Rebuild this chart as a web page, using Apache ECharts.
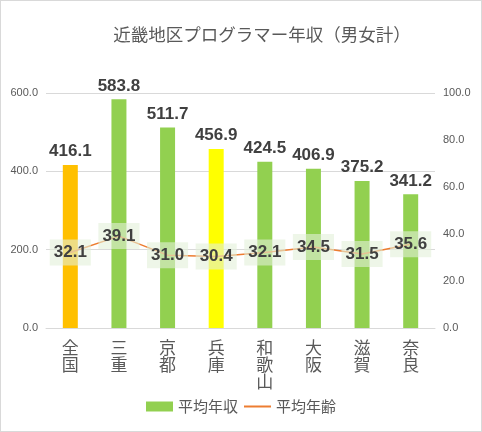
<!DOCTYPE html>
<html><head><meta charset="utf-8">
<script src="https://cdn.jsdelivr.net/npm/echarts@6/dist/echarts.min.js"></script>
<style>
html,body{margin:0;padding:0;background:#fff;}
#chart{width:482px;height:432px;position:relative;}
#frame{position:absolute;left:0;top:0;width:482px;height:432px;box-sizing:border-box;border:1px solid #d9d9d9;pointer-events:none;}
</style></head>
<body>
<div id="chart"></div><div id="frame"></div>
<script>
const categories = ['全国','三重','京都','兵庫','和歌山','大阪','滋賀','奈良'];
const salary = [416.1, 583.8, 511.7, 456.9, 424.5, 406.9, 375.2, 341.2];
const age = [32.1, 39.1, 31.0, 30.4, 32.1, 34.5, 31.5, 35.6];
const barColors = ['#FFC000','#92D050','#92D050','#FFFF00','#92D050','#92D050','#92D050','#92D050'];
const titleText = '近畿地区プログラマー年収（男女計）';
const seriesNames = ['平均年収','平均年齢'];

const chart = echarts.init(document.getElementById('chart'));
const font = '"Noto Sans CJK JP", "Noto Sans", sans-serif';
const numFont = '"Liberation Sans", Arial, sans-serif';
chart.setOption({
  animation: false,
  title: {
    text: titleText, left: 257, top: 21, textAlign: 'center',
    textStyle: {fontFamily: font, fontSize: 17.5, fontWeight: 'normal', color: '#595959'}
  },
  grid: {left: 46, right: 47, top: 93, bottom: 104},
  legend: {
    bottom: 13, left: 'center', itemWidth: 27, itemHeight: 10, itemGap: 6,
    textStyle: {fontFamily: font, fontSize: 15, color: '#595959'},
    data: [{name: seriesNames[0], icon: 'rect'}, {name: seriesNames[1], icon: 'path://M0,0L27,0L27,2L0,2Z'}]
  },
  xAxis: {
    type: 'category', data: categories.map(c => c.split('').join('\n')),
    axisLine: {lineStyle: {color: '#d9d9d9'}}, axisTick: {show: false},
    axisLabel: {fontFamily: font, fontSize: 17, lineHeight: 17, color: '#595959', margin: 11, interval: 0}
  },
  yAxis: [
    {type: 'value', min: 0, max: 600, interval: 200,
     axisLabel: {formatter: v => v.toFixed(1), fontFamily: numFont, fontSize: 11, color: '#595959', margin: 8},
     splitLine: {lineStyle: {color: '#d9d9d9'}}, axisLine: {show: false}, axisTick: {show: false}},
    {type: 'value', min: 0, max: 100, interval: 20,
     axisLabel: {formatter: v => v.toFixed(1), fontFamily: numFont, fontSize: 11, color: '#595959', margin: 8},
     splitLine: {show: false}, axisLine: {show: false}, axisTick: {show: false}}
  ],
  series: [
    {name: seriesNames[0], type: 'bar', yAxisIndex: 0, barWidth: 15,
     itemStyle: {color: '#92D050'},
     data: salary.map((v, i) => ({value: v, itemStyle: {color: barColors[i]}})),
     label: {show: true, position: 'top', distance: 5, formatter: p => p.value.toFixed(1),
       fontFamily: numFont, fontSize: 17, fontWeight: 'bold', color: '#404040'}},
    {name: seriesNames[1], type: 'line', yAxisIndex: 1, z: 5,
     symbol: 'circle', symbolSize: 1,
     lineStyle: {color: '#ED7D31', width: 1.5}, itemStyle: {color: '#ED7D31'},
     data: age,
     label: {show: true, position: 'inside', formatter: p => p.value.toFixed(1),
       fontFamily: numFont, fontSize: 17, fontWeight: 'bold', color: '#404040',
       backgroundColor: 'rgba(226,240,217,0.6)', padding: [5, 4, 4, 4]}}
  ]
});
</script>
</body></html>
